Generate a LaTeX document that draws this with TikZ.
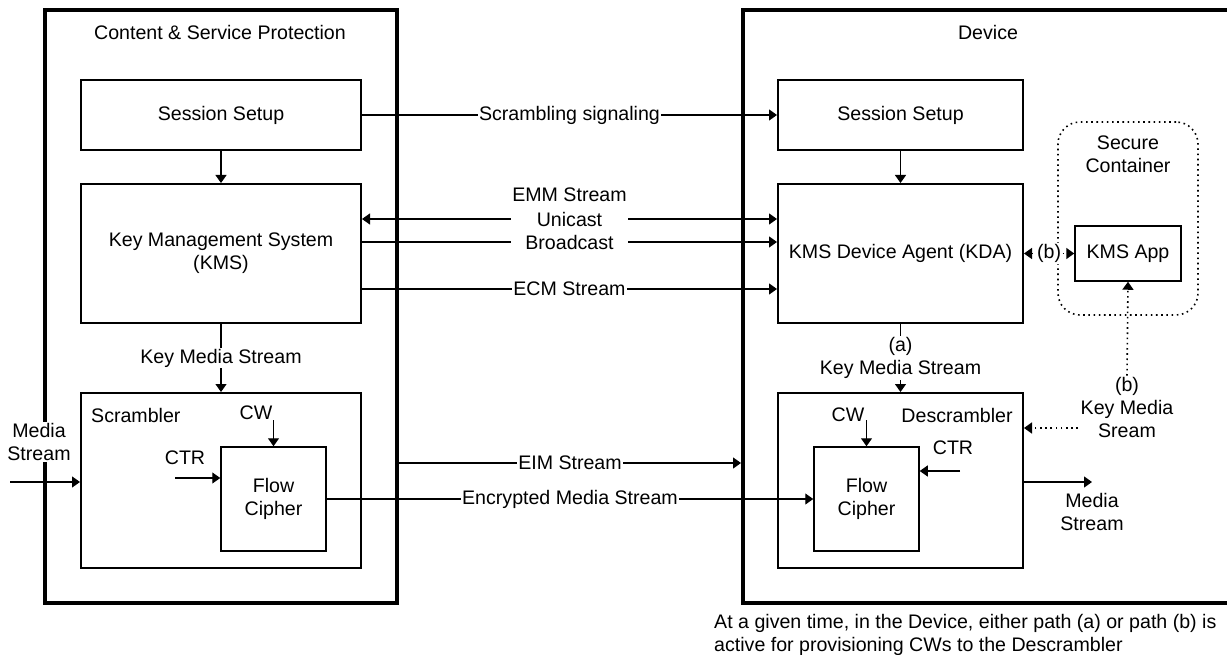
\documentclass[tikz,border=0pt]{standalone}
\usepackage{fontspec}
\setmainfont{Liberation Sans}
\usetikzlibrary{arrows.meta}
\begin{document}
\begin{tikzpicture}[x=1pt,y=-1pt,
  every node/.style={font=\fontsize{19.6}{23}\selectfont, inner sep=0pt},
  thickbox/.style={draw, line width=4pt},
  blockbox/.style={draw, line width=2pt, align=center},
  cipherbox/.style={draw, line width=1.5pt, align=center, minimum width=105pt, minimum height=104pt},
  arr/.style={line width=1.3pt, -{Triangle[length=8pt,width=11pt]}},
  dotline/.style={line width=1.6pt, dash pattern=on 1.6pt off 3.6pt},
  lbl/.style={fill=white, inner sep=1pt, align=center},
  txt/.style={align=center}]
\useasboundingbox (0,0) rectangle (1227,655);
% outer boxes
\node[thickbox, minimum width=352pt, minimum height=593pt] (lout) at (221,306.5) {};
\node[thickbox, minimum width=517pt, minimum height=593pt] (rout) at (1001.5,306.5) {};
\node[txt] (ltitle) at (220,32) {Content \& Service Protection};
\node[txt] (rtitle) at (988,32) {Device};
% left blocks
\node[blockbox, minimum width=280pt, minimum height=70pt] (lss) at (221,115) {Session Setup};
\node[blockbox, minimum width=280pt, minimum height=139pt] (kms) at (221,253.5) {Key Management System\\(KMS)};
\node[blockbox, minimum width=280pt, minimum height=175pt] (scr) at (221,480.5) {};
\node[cipherbox] (lfc) at (273.5,499) {Flow\\Cipher};
\node[anchor=west] (scrl) at (91,415) {Scrambler};
\node[txt] (lcw) at (256,413) {CW};
\node[txt] (lctr) at (185,458) {CTR};
\node[lbl] (lms) at (39,442) {Media\\Stream};
% right blocks
\node[blockbox, minimum width=245pt, minimum height=70pt] (rss) at (900.5,115) {Session Setup};
\node[blockbox, minimum width=245pt, minimum height=139pt] (kda) at (900.5,253.5) {KMS Device Agent (KDA)};
\node[blockbox, minimum width=245pt, minimum height=175pt] (desc) at (900.5,480.5) {};
\node[cipherbox] (rfc) at (866.5,499) {Flow\\Cipher};
\node[txt] (descl) at (957,415) {Descrambler};
\node[txt] (rcw) at (848,415) {CW};
\node[txt] (rctr) at (953,448) {CTR};
\node[txt] (rms) at (1092,512) {Media\\Stream};
% secure container
\node[draw, dotline, rounded corners=22pt, minimum width=140pt, minimum height=193pt] (sc) at (1128,218.5) {};
\node[txt] (sct) at (1128,154) {Secure\\Container};
\node[draw, line width=1.5pt, minimum width=106pt, minimum height=55pt] (app) at (1128,253.5) {KMS App};
\node[txt, inner sep=1pt] (kbl) at (1127,407) {(b)\\Key Media\\Sream};
% note
\node[anchor=west, align=left] (note) at (714,635) {At a given time, in the Device, either path (a) or path (b) is\\active for provisioning CWs to the Descrambler};
% connectors left
\draw[arr] (lss.south) -- (kms.north);
\draw[arr] (kms.south) -- node[lbl]{Key Media Stream} (scr.north);
\coordinate (msin) at (10,482);
\draw[arr] (msin) -- (msin -| scr.west);
\draw[arr] (lfc.north |- 0,420) -- (lfc.north);
\coordinate (ctrl) at (175,478);
\draw[arr] (ctrl) -- (ctrl -| lfc.west);
% cross connectors
\draw[arr] (lss.east) -- node[lbl]{Scrambling signaling} (rss.west);
\node[txt] (emm) at (569.5,195) {EMM Stream};
\node[txt, minimum width=117pt] (uni) at (569.5,219) {Unicast};
\node[txt, minimum width=117pt] (bro) at (569.5,242) {Broadcast};
\draw[arr] (uni.west) -- (uni.west -| kms.east);
\draw[arr] (uni.east) -- (uni.east -| kda.west);
\draw[line width=1.3pt] (bro.west) -- (bro.west -| kms.east);
\draw[arr] (bro.east) -- (bro.east -| kda.west);
\coordinate (ecm) at (0,289);
\draw[arr] (kms.east |- ecm) -- node[lbl]{ECM Stream} (kda.west |- ecm);
\coordinate (eim) at (0,463);
\draw[arr] (lout.east |- eim) -- node[lbl]{EIM Stream} (rout.west |- eim);
\draw[arr] (lfc.east) -- node[lbl]{Encrypted Media Stream} (rfc.west);
% connectors right
\draw[arr] (rss.south) -- (kda.north);
\draw[arr] (kda.south) -- node[lbl]{(a)\\Key Media Stream} (desc.north);
\draw[arr] (rfc.north |- 0,420) -- (rfc.north);
\coordinate (ctrr) at (960,471);
\draw[arr] (ctrr) -- (ctrr -| rfc.east);
\coordinate (msout) at (1092,482);
\draw[arr] (msout -| desc.east) -- (msout);
\draw[dotline, {Triangle[length=8pt,width=11pt]}-{Triangle[length=8pt,width=11pt]}] (kda.east) -- node[lbl]{(b)} (app.west);
\draw[dotline, -{Triangle[length=8pt,width=11pt]}] (kbl.north) -- (app.south);
\coordinate (kbd) at (1078,428);
\draw[dotline, -{Triangle[length=8pt,width=11pt]}] (kbd) -- (kbd -| desc.east);
\end{tikzpicture}
\end{document}
